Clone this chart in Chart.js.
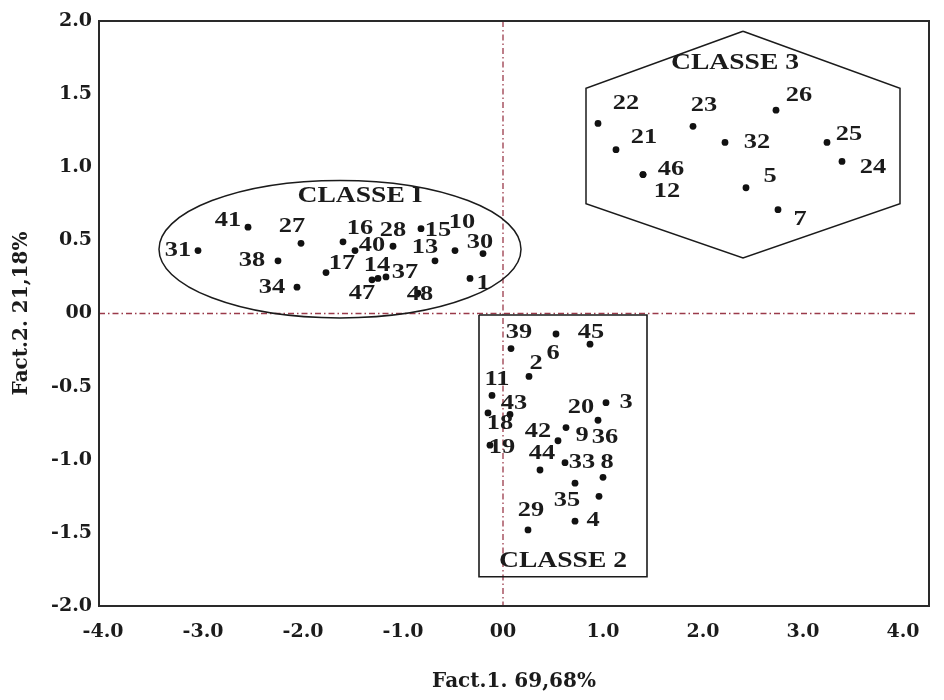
<!DOCTYPE html>
<html><head><meta charset="utf-8">
<script src="https://cdn.jsdelivr.net/npm/chart.js@4"></script>
<style>html,body{margin:0;padding:0;background:#fff}canvas{display:block}</style>
</head><body>
<canvas id="c" width="944" height="700"></canvas>
<script>
// ---------- data ----------
const xTickValues = [-4, -3, -2, -1, 0, 1, 2, 3, 4];
const xTickLabels = ['-4.0', '-3.0', '-2.0', '-1.0', '00', '1.0', '2.0', '3.0', '4.0'];
const yTickValues = [-2, -1.5, -1, -0.5, 0, 0.5, 1, 1.5, 2];
const yTickLabels = ['-2.0', '-1.5', '-1.0', '-0.5', '00', '0.5', '1.0', '1.5', '2.0'];

const class1Ids = [1, 10, 13, 14, 15, 16, 17, 27, 28, 30, 31, 34, 37, 38, 40, 41, 47, 48];
const class1X = [-0.33, -0.48, -0.68, -1.25, -0.82, -1.60, -1.77, -2.02, -1.10, -0.20, -3.05, -2.06, -1.17, -2.25, -1.48, -2.55, -1.31, -0.85];
const class1Y = [0.24, 0.43, 0.36, 0.24, 0.58, 0.49, 0.28, 0.48, 0.46, 0.41, 0.43, 0.18, 0.25, 0.36, 0.43, 0.59, 0.23, 0.14];

const class2Ids = [2, 3, 4, 6, 8, 9, 11, 18, 19, 20, 29, 33, 35, 36, 39, 42, 43, 44, 45];
const class2X = [0.26, 1.03, 0.72, 0.53, 1.00, 0.63, -0.11, -0.15, -0.13, 0.95, 0.25, 0.62, 0.72, 0.96, 0.08, 0.55, 0.07, 0.37, 0.87];
const class2Y = [-0.43, -0.61, -1.42, -0.14, -1.12, -0.78, -0.56, -0.68, -0.90, -0.73, -1.48, -1.02, -1.16, -1.25, -0.24, -0.87, -0.69, -1.07, -0.21];

const class3Ids = [5, 7, 12, 21, 22, 23, 24, 25, 26, 32, 46];
const class3X = [2.43, 2.75, 1.40, 1.13, 0.95, 1.90, 3.39, 3.24, 2.73, 2.22, 1.40];
const class3Y = [0.86, 0.71, 0.95, 1.12, 1.30, 1.28, 1.04, 1.17, 1.39, 1.17, 0.95];

// class boundaries (data units)
const ellipseCenter = [-1.63, 0.44];
const ellipseRadii = [1.81, 0.47];
const rectX = [-0.24, 1.44, 1.44, -0.24, -0.24];
const rectY = [-0.01, -0.01, -1.80, -1.80, -0.01];
const hexX = [2.40, 3.97, 3.97, 2.40, 0.83, 0.83, 2.40];
const hexY = [1.93, 1.54, 0.75, 0.38, 0.75, 1.54, 1.93];

const classNames = ['CLASSE I', 'CLASSE 2', 'CLASSE 3'];
const classNameX = [-1.43, 0.60, 2.32];
const classNameY = [0.80, -1.69, 1.71];

// label placement relative to each point (pixels)
const class1Dx = [13, 7, -10, -1, 17, 17, 16, -9, 0, -3, -20, -25, 19, -26, 17, -20, -10, 2];
const class1Dy = [5, -28, -14, -13, 2, -14, -9, -17, -16, -11, 0, 0, -5, -1, -5, -7, 13, 1];
const class2Dx = [7, 20, 18, -3, 4, 16, 5, 12, 12, -17, 3, 17, -8, 6, 8, -20, 4, 2, 1];
const class2Dy = [-13, 0, -1, 19, -15, 8, -16, 10, 2, -13, -20, 0, 17, -59, -16, -9, -11, -17, -12];
const class3Dx = [24, 22, 24, 28, 28, 11, 31, 22, 23, 32, 28];
const class3Dy = [-11, 10, 17, -12, -20, -21, 6, -8, -15, 0, -5];

// ---------- drawing ----------
const INK = '#1b1b1b';
const SERIF = "'Liberation Serif', 'Times New Roman', serif";
const AXISFONT = "'DejaVu Serif', 'Liberation Serif', serif";
const groups = [
  { ids: class1Ids, dx: class1Dx, dy: class1Dy },
  { ids: class2Ids, dx: class2Dx, dy: class2Dy },
  { ids: class3Ids, dx: class3Dx, dy: class3Dy }
];

function stretchText(ctx, txt, x, y, size) {
  ctx.save();
  ctx.translate(x, y);
  ctx.scale(1.2, 1);
  ctx.font = 'bold ' + size + 'px ' + SERIF;
  ctx.fillStyle = INK;
  ctx.textAlign = 'center';
  ctx.textBaseline = 'middle';
  ctx.fillText(txt, 0, 0);
  ctx.restore();
}

const decor = {
  id: 'decor',
  beforeDatasetsDraw(chart) {
    const { ctx, chartArea: a, scales: { x, y } } = chart;
    ctx.save();
    ctx.strokeStyle = '#9a3a4a';
    ctx.lineWidth = 1.3;
    ctx.setLineDash([6, 3, 1.5, 3]);
    const x0 = x.getPixelForValue(0), y0 = y.getPixelForValue(0);
    ctx.beginPath();
    ctx.moveTo(a.left, y0); ctx.lineTo(a.right - 14, y0);
    ctx.moveTo(x0, a.top); ctx.lineTo(x0, a.bottom);
    ctx.stroke();
    ctx.setLineDash([]);
    // ellipse of class I
    const cx = x.getPixelForValue(ellipseCenter[0]);
    const cy = y.getPixelForValue(ellipseCenter[1]);
    const rx = Math.abs(x.getPixelForValue(ellipseCenter[0] + ellipseRadii[0]) - cx);
    const ry = Math.abs(y.getPixelForValue(ellipseCenter[1] + ellipseRadii[1]) - cy);
    ctx.strokeStyle = INK;
    ctx.lineWidth = 1.5;
    ctx.beginPath();
    ctx.ellipse(cx, cy, rx, ry, 0, 0, Math.PI * 2);
    ctx.stroke();
    ctx.restore();
  },
  afterDatasetsDraw(chart) {
    const { ctx, chartArea: a, scales: { x, y } } = chart;
    ctx.save();
    ctx.strokeStyle = '#2a2a2a';
    ctx.lineWidth = 2;
    ctx.strokeRect(a.left, a.top, a.right - a.left, a.bottom - a.top);
    groups.forEach((g, di) => {
      const meta = chart.getDatasetMeta(di);
      meta.data.forEach((el, i) => {
        stretchText(ctx, String(g.ids[i]), el.x + g.dx[i], el.y + g.dy[i], 22);
      });
    });
    classNames.forEach((n, i) => {
      stretchText(ctx, n, x.getPixelForValue(classNameX[i]), y.getPixelForValue(classNameY[i]), 23);
    });
    ctx.restore();
  }
};

const pts = (xs, ys) => xs.map((v, i) => ({ x: v, y: ys[i] }));
const pointStyle = { pointRadius: 3.4, pointHoverRadius: 3.4, backgroundColor: '#111', borderColor: '#111', borderWidth: 0, showLine: false };
const tickFont = { family: AXISFONT, size: 19, weight: 'bold' };
const titleFont = { family: AXISFONT, size: 20, weight: 'bold' };

new Chart(document.getElementById('c'), {
  type: 'scatter',
  data: {
    datasets: [
      Object.assign({ label: classNames[0], data: pts(class1X, class1Y) }, pointStyle),
      Object.assign({ label: classNames[1], data: pts(class2X, class2Y) }, pointStyle),
      Object.assign({ label: classNames[2], data: pts(class3X, class3Y) }, pointStyle),
      { label: 'rect', data: pts(rectX, rectY), showLine: true, pointRadius: 0, borderColor: INK, borderWidth: 1.6, fill: false, tension: 0 },
      { label: 'hex', data: pts(hexX, hexY), showLine: true, pointRadius: 0, borderColor: INK, borderWidth: 1.5, fill: false, tension: 0 }
    ]
  },
  options: {
    responsive: false,
    animation: false,
    events: [],
    plugins: { legend: { display: false }, tooltip: { enabled: false } },
    layout: { padding: { top: 21, right: 15, bottom: 0, left: 0 } },
    scales: {
      x: {
        type: 'linear', min: -4.04, max: 4.26,
        afterBuildTicks: s => { s.ticks = xTickValues.map(v => ({ value: v })); },
        afterFit: s => { s.height = 94; },
        grid: { display: false, drawTicks: false },
        border: { display: false },
        ticks: { autoSkip: false, maxRotation: 0, padding: 15, color: INK, font: tickFont,
          callback: v => xTickLabels[xTickValues.indexOf(v)] },
        title: { display: true, text: 'Fact.1. 69,68%', color: INK, font: titleFont, padding: { top: 0, bottom: 6 } }
      },
      y: {
        type: 'linear', min: -2, max: 2,
        afterBuildTicks: s => { s.ticks = yTickValues.map(v => ({ value: v })); },
        afterFit: s => { s.width = 99; },
        grid: { display: false, drawTicks: false },
        border: { display: false },
        ticks: { autoSkip: false, padding: 7, color: INK, font: tickFont,
          callback: v => yTickLabels[yTickValues.indexOf(v)] },
        title: { display: true, text: 'Fact.2. 21,18%', color: INK, font: titleFont, padding: { top: 10, bottom: 0 } }
      }
    }
  },
  plugins: [decor]
});
</script>
</body></html>
